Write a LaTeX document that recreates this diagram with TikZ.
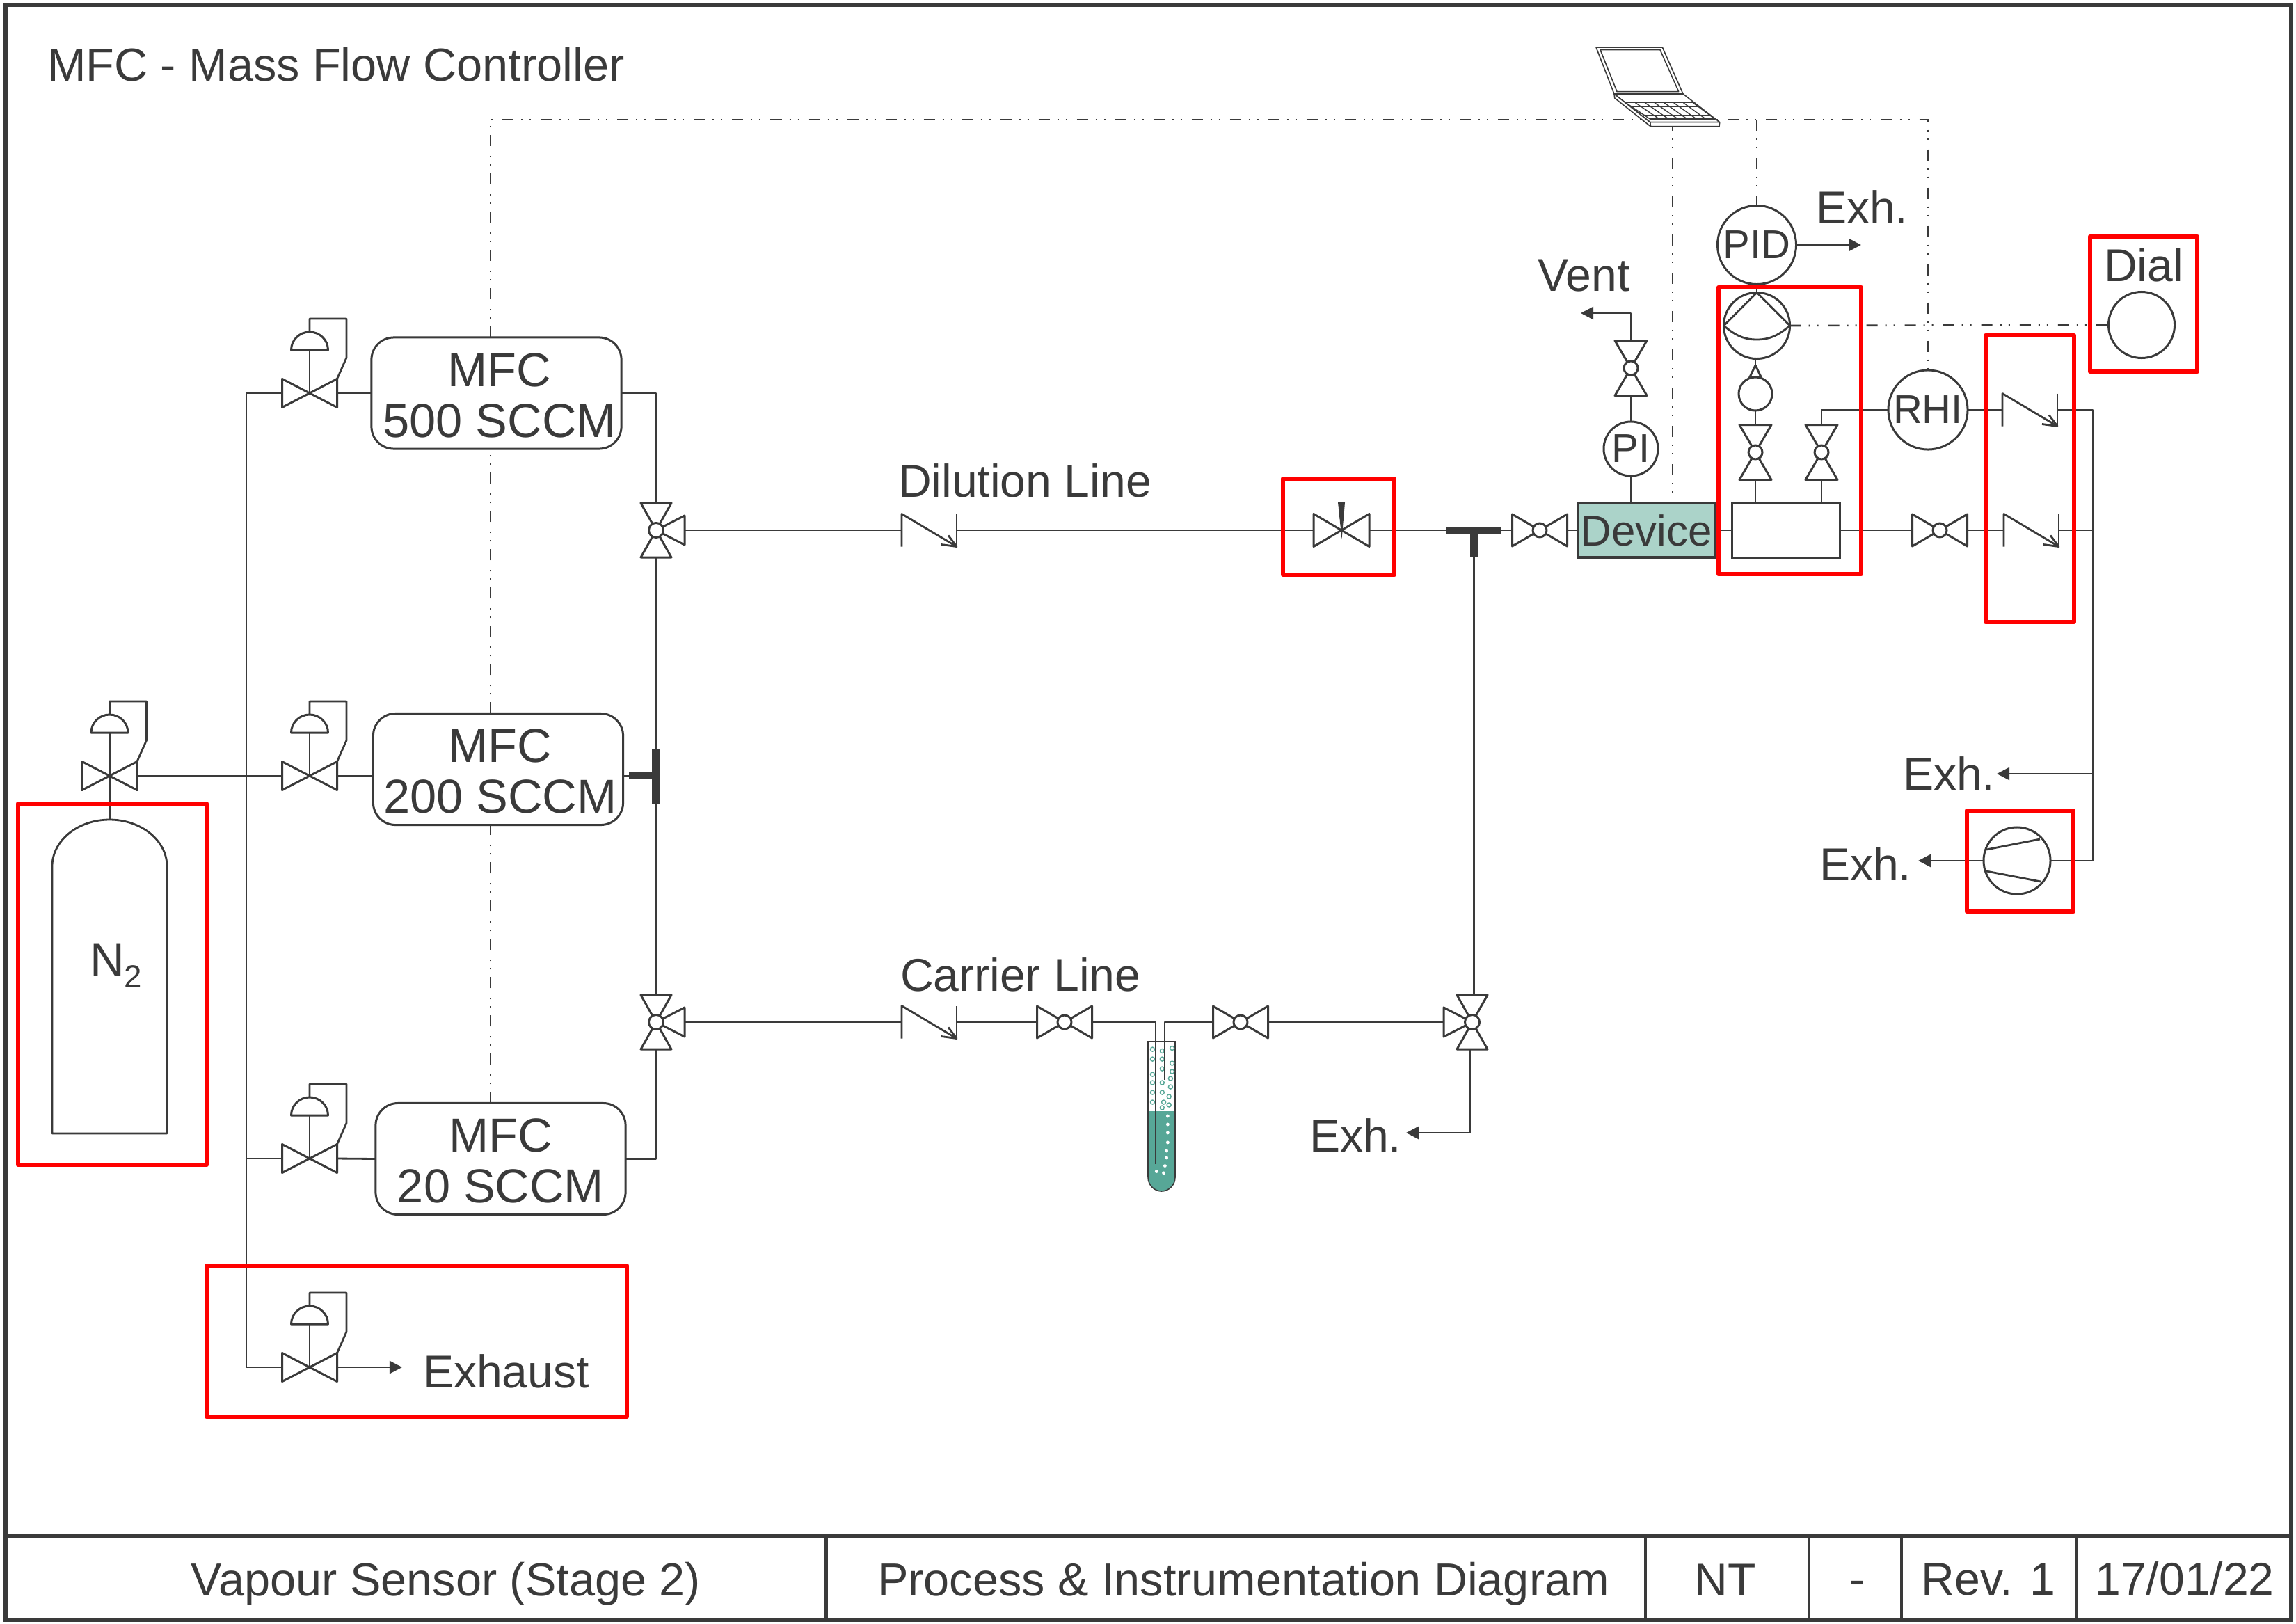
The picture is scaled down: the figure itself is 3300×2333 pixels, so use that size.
\documentclass[tikz,border=0pt]{standalone}
\usepackage{fontspec}
\setmainfont{Liberation Sans}
\usetikzlibrary{arrows.meta,calc}
\definecolor{ink}{HTML}{3A3A3A}
\definecolor{teallight}{HTML}{ABD3C9}
\definecolor{tealdark}{HTML}{57A797}
\newcommand{\tsize}[1]{\fontsize{#1}{#1}\selectfont}
\newcommand{\mfctext}[3]{\rule{0pt}{15.4pt}\hspace*{#3}#1\\\hspace*{#3}#2}
\tikzset{
  ln/.style={draw=ink,line width=0.8pt,line join=round},
  sym/.style={draw=ink,fill=white,line width=0.85pt,line join=round},
  flow/.style={ln,-{Triangle[length=0.18cm,width=0.18cm]}},
  signal/.style={draw=ink,line width=0.75pt,dash pattern=on 0.16cm off 0.11cm on 0.02cm off 0.10cm on 0.02cm off 0.14cm},
  redbox/.style={draw=red,line width=1.85pt,line join=round},
  frameln/.style={draw=ink,line width=1.7pt},
  cellln/.style={draw=ink,line width=1.15pt},
  txt/.style={text=ink,inner sep=0pt,outer sep=0pt,font=\tsize{18.8}},
  widetxt/.style={txt,font=\tsize{18.95}},
  mfcbox/.style={draw=ink,fill=white,line width=0.85pt,rounded corners=0.32cm,minimum width=3.59cm,minimum height=1.60cm,inner sep=0pt,outer sep=0pt,align=center,text=ink,font=\fontsize{19.5}{20.8}\selectfont},
  instr/.style={circle,draw=ink,fill=white,line width=0.85pt,inner sep=0pt,outer sep=0pt,text=ink,font=\tsize{16.5}},
  solidbar/.style={fill=ink,inner sep=0pt,outer sep=0pt,draw=none},
  ballh/.pic={
    \draw[sym] (-39.5,-23) -- (-39.5,23) -- (0,0) -- cycle;
    \draw[sym] (39.5,-23) -- (39.5,23) -- (0,0) -- cycle;
    \draw[sym] (0,0) circle[radius=10];
    \coordinate (-l) at (-39.5,0); \coordinate (-r) at (39.5,0);
  },
  ballv/.pic={
    \draw[sym] (-23,-39.5) -- (23,-39.5) -- (0,0) -- cycle;
    \draw[sym] (-23,39.5) -- (23,39.5) -- (0,0) -- cycle;
    \draw[sym] (0,0) circle[radius=10];
    \coordinate (-t) at (0,-39.5); \coordinate (-b) at (0,39.5);
  },
  threeway/.pic={
    \draw[sym] (-22,-39) -- (22,-39) -- (0,0) -- cycle;
    \draw[sym] (-22,39) -- (22,39) -- (0,0) -- cycle;
    \draw[sym] (41,-21) -- (41,21) -- (0,0) -- cycle;
    \draw[sym] (0,0) circle[radius=10.5];
    \coordinate (-t) at (0,-39); \coordinate (-b) at (0,39); \coordinate (-s) at (41,0);
  },
  actvalve/.pic={
    \draw[sym] (-39.5,-20.5) -- (39.5,20.5) -- (39.5,-20.5) -- (-39.5,20.5) -- cycle;
    \draw[ln] (0,0) -- (0,-62);
    \draw[sym] (-26.5,-62) .. controls (-26.5,-76.4) and (-14.6,-88) .. (0,-88) .. controls (14.6,-88) and (26.5,-76.4) .. (26.5,-62) -- cycle;
    \draw[ln] (0,-88) -- (0,-107) -- (53,-107) -- (53,-51) -- (39.5,-20.5);
    \coordinate (-l) at (-39.5,0); \coordinate (-r) at (39.5,0); \coordinate (-c) at (0,0);
  },
  needlevalve/.pic={
    \draw[sym] (-40,-23.5) -- (40,23.5) -- (40,-23.5) -- (-40,23.5) -- cycle;
    \fill[ink] (-5,-40) -- (5,-40) -- (0.5,13) -- cycle;
    \coordinate (-l) at (-40,0); \coordinate (-r) at (40,0);
  },
  checkv/.pic={
    \draw[ln] (0,23.5) -- (0,-23.5) -- (79,23.5);
    \draw[ln] (79,-23.5) -- (79,23.5);
    \draw[ln] (57,20.5) -- (79,23.5) -- (67,7.5);
    \coordinate (-l) at (0,0); \coordinate (-r) at (79,0);
  },
}
\begin{document}
\begin{tikzpicture}[x=0.01cm,y=-0.01cm]
\useasboundingbox (0,0) rectangle (3300,2333);
\fill[white] (0,0) rectangle (3300,2333);

% ---------- frame and title strip
\draw[frameln] (8,7.5) rectangle (3293,2328);
\draw[frameln] (8,2208) -- (3293,2208);
\foreach \cx in {1187.5,2365,2600,2733,2984} \draw[cellln] (\cx,2208) -- (\cx,2328);
\node[widetxt,anchor=base] (cellA) at (641,2293) {Vapour Sensor (Stage 2)};
\node[widetxt,anchor=base] (cellB) at (1787,2293) {Process \& Instrumentation Diagram};
\node[txt,anchor=base] (cellC) at (2480,2293) {NT};
\node[txt,anchor=base] (cellD) at (2669,2292) {-};
\node[txt,anchor=base] (cellE) at (2858,2292) {Rev. 1};
\node[txt,anchor=base] (cellF) at (3140,2292) {17/01/22};
\node[widetxt,anchor=base west] (legend) at (68,116) {MFC - Mass Flow Controller};

% ---------- mass flow controllers
\node[mfcbox] (mfc500) at (713.5,565) {\mfctext{MFC}{500 SCCM}{2.6pt}};
\node[mfcbox] (mfc200) at (716,1105.5) {\mfctext{MFC}{200 SCCM}{1.6pt}};
\node[mfcbox] (mfc20) at (719.5,1665.5) {\mfctext{MFC}{20 SCCM}{0pt}};

% ---------- instruments and boxes
\node[instr,minimum size=1.13cm] (pid) at (2525,352) {PID};
\node[instr,minimum size=1.14cm] (rhi) at (2771,589) {RHI};
\node[instr,minimum size=0.78cm] (pi) at (2344,645) {PI};
\node[instr,minimum size=0.95cm] (pump) at (2525,468) {};
\node[instr,minimum size=0.95cm] (dial) at (3078,467) {};
\node[draw=ink,fill=teallight,line width=0.9pt,minimum width=1.96cm,minimum height=0.78cm,inner sep=0pt,outer sep=0pt,text=ink,font=\tsize{17.6}] (device) at (2366,762) {Device};
\node[draw=ink,fill=white,line width=0.85pt,minimum width=1.54cm,minimum height=0.78cm,inner sep=0pt,outer sep=0pt] (chamber) at (2567,762) {};

% ---------- signal lines
\coordinate (busW) at (705,172);
\coordinate (busE) at (2771,172);
\draw[signal] (busW |- mfc20.north) -- (busW |- mfc200.south);
\draw[signal] (busW |- mfc200.north) -- (busW |- mfc500.south);
\draw[signal] (busW |- mfc500.north) -- (busW) -- (busE) -- (rhi.north);
\coordinate (busDev) at (2404,172);
\draw[signal] (busDev) -- (busDev |- device.north);
\draw[signal] (pid.north |- busW) -- (pid.north);
\draw[signal] (pump.east) -- (dial.west);

% ---------- laptop
\draw[sym,line width=0.45pt] (2294,68) -- (2389.3,68) -- (2419,135) -- (2320,135) -- cycle;
\draw[sym,line width=0.45pt] (2300,71.7) -- (2386,71.7) -- (2412.7,131.7) -- (2324,131.7) -- cycle;
\draw[sym,line width=0.45pt] (2320,135) -- (2419,135) -- (2471.7,175.7) -- (2371.7,175.7) -- cycle;
\draw[sym,line width=0.45pt] (2371.7,175.7) -- (2471.7,175.7) -- (2471,181.7) -- (2372.3,181.7) -- cycle;
\draw[sym,line width=0.45pt] (2320,135) -- (2320.7,141) -- (2372.3,181.7) -- (2371.7,175.7) -- cycle;
\foreach \r in {0,1,2,3,4} {
  \pgfmathsetmacro{\fr}{\r/4}
  \draw[draw=ink,line width=0.4pt] ({2336.7+\fr*35},{147.7+\fr*23.5}) -- ({2433.3+\fr*31.7},{147.7+\fr*23.5});
}
\foreach \c in {0,1,...,7} {
  \pgfmathsetmacro{\fc}{\c/7}
  \draw[draw=ink,line width=0.4pt] ({2336.7+\fc*96.6},147.7) -- ({2371.7+\fc*93.3},171.2);
}

% ---------- valves
\pic (v500) at (445,565) {actvalve};
\pic (v200) at (445,1115) {actvalve};
\pic (v20) at (445,1665) {actvalve};
\pic (vex) at (445,1965) {actvalve};
\pic (vn2) at (157.5,1115) {actvalve};
\pic (w1) at (943,762) {threeway};
\pic (w2) at (943,1469) {threeway};
\pic[xscale=-1] (w3) at (2116,1469) {threeway};
\pic (needle) at (1928,762) {needlevalve};
\pic (b1) at (2213,762) {ballh};
\pic (b2) at (2788,762) {ballh};
\pic (b3) at (1530,1469) {ballh};
\pic (b4) at (1783,1469) {ballh};
\pic (bvent) at (2344,529) {ballv};
\pic (bl) at (2523,650) {ballv};
\pic (br) at (2618,650) {ballv};
\pic (c1) at (1296,762) {checkv};
\pic (c2) at (1296,1469) {checkv};
\pic (c3) at (2878,589) {checkv};
\pic (c4) at (2880,762) {checkv};

% ---------- tee pieces
\node[solidbar,minimum width=0.79cm,minimum height=0.10cm] (teeD) at (2118.5,762) {};
\node[solidbar,minimum width=0.11cm,minimum height=0.34cm] (teeDs) at (2118.5,784) {};
\node[solidbar,minimum width=0.11cm,minimum height=0.78cm] (teeM) at (942.5,1116) {};
\node[solidbar,minimum width=0.33cm,minimum height=0.10cm] (teeMs) at (920.5,1115) {};

% ---------- pump symbol interior
\draw[ln] (pump.north) -- (pump.west) (pump.north) -- (pump.east);
\draw[ln] (pump.west) .. controls (2495,483) and (2508,488) .. (2525,488) .. controls (2542,488) and (2555,483) .. (pump.east);

% ---------- flow indicator under the pump
\coordinate (fiTop) at (2523,515);
\draw[sym] (2523,525) -- (2510,552) -- (2536,552) -- cycle;
\node[instr,minimum size=0.48cm] (fi) at (2523,566) {};
\draw[ln] (pump.south -| fiTop) -- (2523,525);
\draw[ln] (fi.south) -- (bl-t);

% ---------- exhaust pump
\node[instr,minimum size=0.96cm] (vac) at (2899,1237) {};
\draw[ln] (2855,1221) -- (2932,1206);
\draw[ln] (2855,1252) -- (2933,1267);

% ---------- gas cylinder
\draw[ln] (75,1245) .. controls (75,1208) and (112,1178) .. (157.5,1178) .. controls (203,1178) and (240,1208) .. (240,1245) -- (240,1629) -- (75,1629) -- cycle;
\coordinate (tankTop) at (157.5,1178);
\node[txt,anchor=base west,font=\tsize{19.6}] (n2) at (129,1403) {N\raisebox{-4.8pt}{\tsize{13}2}};

% ---------- bubbler tube
\fill[tealdark] (1650,1597) -- (1650,1692) .. controls (1650,1703) and (1659,1712) .. (1669.5,1712) .. controls (1680,1712) and (1689,1703) .. (1689,1692) -- (1689,1597) -- cycle;
\draw[draw=ink,line width=0.45pt] (1650,1497) -- (1650,1692) .. controls (1650,1703) and (1659,1712) .. (1669.5,1712) .. controls (1680,1712) and (1689,1703) .. (1689,1692) -- (1689,1497) -- cycle;
\begin{scope}[shift={(1550,1380)},x=0.004464cm,y=-0.003333cm]
  \foreach \X/\Y in {238/385,269/392,301/380,238/427,269/427,301/445,269/469,301/481,238/493,296/511,238/529,269/529,296/547,238/571,269/571,291/589,238/613,274/613,291/625,269/637}
    \draw[draw=tealdark,line width=0.4pt] (\X,\Y) circle[radius=0.03cm];
  \foreach \X/\Y in {287/673,287/709,287/745,287/787,283/823,283/853,278/888,251/912,274/919}
    \fill[white] (\X,\Y) circle[radius=0.024cm];
\end{scope}

% ---------- connectors: gas supply
\coordinate (supply) at (354,1965);
\draw[ln] (vn2-r) -- (v200-l);
\draw[ln] (vn2-c) -- (tankTop);
\draw[ln] (v500-l) -- (supply |- v500-l) -- (supply) -- (vex-l);
\draw[ln] (supply |- v20-l) -- (v20-l);
\draw[ln] (v500-r) -- (mfc500.west);
\draw[ln] (v200-r) -- (v200-r -| mfc200.west);
\draw[ln] (v20-r) -- (mfc20.west);
\coordinate (exhTip) at (578,1965);
\draw[flow] (vex-r) -- (exhTip);
\node[txt,anchor=base west] (exhaust) at (608,1994) {Exhaust};

% ---------- connectors: manifold
\draw[ln] (mfc500.east) -- (mfc500.east -| w1-t) -- (w1-t);
\draw[ln] (w1-b) -- (w1-b |- teeM.north);
\draw[ln] (w2-t |- teeM.south) -- (w2-t);
\draw[ln] (teeMs.west -| mfc200.east) -- (teeMs.west);
\draw[ln] (mfc20.east) -- (mfc20.east -| w2-b) -- (w2-b);

% ---------- connectors: dilution line
\draw[ln] (w1-s) -- (c1-l);
\draw[ln] (c1-r) -- (needle-l);
\draw[ln] (needle-r) -- (teeD.west);
\draw[ln] (teeD.east) -- (b1-l);
\draw[ln] (b1-r) -- (device.west);
\draw[ln] (device.east) -- (chamber.west);
\draw[ln] (chamber.east) -- (b2-l);
\draw[ln] (b2-r) -- (c4-l);
\coordinate (drain) at (3008,1237);
\draw[ln] (c4-r) -- (c4-r -| drain);
\node[txt,anchor=base] (dilution) at (1473,714) {Dilution Line};

% ---------- connectors: carrier line
\draw[ln] (w2-s) -- (c2-l);
\draw[ln] (c2-r) -- (b3-l);
\coordinate (tubeIn) at (1661,1673);
\coordinate (tubeOut) at (1674,1552);
\draw[ln] (b3-r) -- (tubeIn |- b3-r) -- (tubeIn);
\draw[ln] (b4-l) -- (tubeOut |- b4-l) -- (tubeOut);
\draw[ln] (b4-r) -- (w3-s);
\draw[ln] (teeDs.south) -- (teeDs.south |- w3-t);
\coordinate (wExh) at (2113,1628);
\coordinate (wExhTip) at (2021,1628);
\draw[flow] (wExh |- w3-b) -- (wExh) -- (wExhTip);
\node[txt,anchor=base west] (carrier) at (1294,1424) {Carrier Line};
\node[txt,anchor=base west] (exhA) at (1882,1655) {Exh.};

% ---------- connectors: sensor branch
\draw[ln] (device.north -| pi) -- (pi.south);
\draw[ln] (pi.north) -- (bvent-b);
\coordinate (ventC) at (2344,450);
\coordinate (ventTip) at (2272,450);
\draw[flow] (bvent-t) -- (ventC) -- (ventTip);
\node[txt,anchor=base west] (vent) at (2210,418) {Vent};
\draw[ln] (pid.south) -- (pump.north);
\coordinate (pidTip) at (2675,352);
\draw[flow] (pid.east) -- (pidTip);
\node[txt,anchor=base west] (exhB) at (2610,321) {Exh.};
\draw[ln] (bl-b) -- (bl-b |- chamber.north);
\draw[ln] (br-b) -- (br-b |- chamber.north);
\draw[ln] (br-t) -- (br-t |- rhi.west) -- (rhi.west);
\draw[ln] (rhi.east) -- (c3-l);
\draw[ln] (c3-r) -- (c3-r -| drain) -- (drain) -- (vac.east);
\coordinate (drainTip) at (2870,1112);
\draw[flow] (drain |- drainTip) -- (drainTip);
\node[txt,anchor=base west] (exhC) at (2735,1135) {Exh.};
\coordinate (vacTip) at (2757,1237);
\draw[flow] (vac.west) -- (vacTip);
\node[txt,anchor=base west] (exhD) at (2615,1265) {Exh.};
\node[txt,anchor=base west] (dialt) at (3024,404) {Dial};

% ---------- highlight boxes
\draw[redbox] (2470,413) rectangle (2675,825);
\draw[redbox] (2854,482) rectangle (2981,894);
\draw[redbox] (3004,340) rectangle (3158,534);
\draw[redbox] (26,1155) rectangle (297,1674);
\draw[redbox] (1844,688) rectangle (2004,826);
\draw[redbox] (297,1819) rectangle (901,2036);
\draw[redbox] (2827,1165) rectangle (2980,1310);
\end{tikzpicture}
\end{document}
